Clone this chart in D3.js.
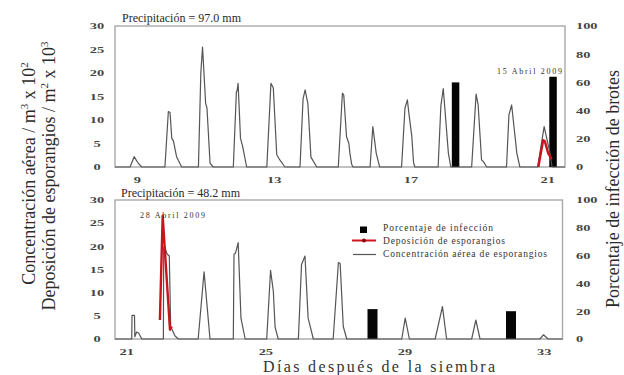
<!DOCTYPE html>
<html>
<head>
<meta charset="utf-8">
<script src="https://cdn.jsdelivr.net/npm/d3@7"></script>
<style>
  body { margin: 0; background: #fff; }
  svg { display: block; font-family: "Liberation Serif", "DejaVu Serif", serif; }
</style>
</head>
<body>
<svg id="chart" width="624" height="375"></svg>
<script>
// values: [dia despues de la siembra, valor]
var yTicks = [0, 5, 10, 15, 20, 25, 30];
var pctTicks = [0, 20, 40, 60, 80, 100];

var topTicks = [9, 13, 17, 21];
var topConc = [
  [8.36, 0], [8.80, 0], [8.92, 2.2], [9.02, 1.0], [9.14, 0],
  [9.82, 0], [9.92, 11.8], [9.97, 11.6], [10.02, 6.1], [10.07, 5.5], [10.16, 2.2], [10.31, 0],
  [10.80, 0], [10.87, 20], [10.92, 25.5], [11.01, 13.6], [11.05, 12.5], [11.14, 0.8], [11.23, 0],
  [11.82, 0], [11.91, 16], [11.93, 16.2], [11.96, 17.8], [12.03, 6.1], [12.09, 4.5], [12.21, 0],
  [12.80, 0], [12.92, 17.8], [12.99, 16.8], [13.09, 2.6], [13.18, 1.5], [13.33, 0],
  [13.77, 0], [13.86, 14.5], [13.92, 16.4], [14.00, 13.5], [14.09, 2.1], [14.26, 0],
  [14.89, 0], [15.01, 15.7], [15.05, 15.3], [15.13, 6.5], [15.20, 5], [15.23, 2.9], [15.28, 0.6], [15.32, 0],
  [15.82, 0], [15.90, 8.6], [16.00, 2.9], [16.10, 0],
  [16.74, 0], [16.84, 12.5], [16.91, 14.3], [16.96, 11.1], [17.04, 6.5], [17.09, 1], [17.13, 0],
  [17.81, 0], [17.89, 13], [17.96, 16.7], [18.11, 2.9], [18.18, 0],
  [18.79, 0], [18.92, 15.5], [18.98, 13.2], [19.08, 1.5], [19.13, 1.2], [19.23, 0],
  [19.81, 0], [19.88, 11.1], [19.96, 13.2], [20.11, 3], [20.20, 0],
  [20.72, 0], [20.91, 8.6], [21.08, 3], [21.14, 0], [21.52, 0]
];
var topDep = [[20.74, 0], [20.88, 5.7], [20.93, 5.5], [21.03, 2.9], [21.13, 1.7]];
var topBarDays = [18.32, 21.17];
var topBarPct = [60, 64];

var botTicks = [21, 25, 29, 33];
var botConc = [
  [20.68, 0], [21.16, 0], [21.17, 5.1], [21.24, 5.1], [21.25, 0.5], [21.30, 1.5], [21.36, 1.3], [21.45, 0],
  [22.07, 0], [22.08, 19.8], [22.10, 20], [22.18, 18.3], [22.24, 17.9], [22.28, 2.7], [22.40, 0.7], [22.50, 0],
  [23.07, 0], [23.24, 14.5], [23.41, 0],
  [24.08, 0], [24.10, 18.3], [24.14, 18.5], [24.22, 20.8], [24.30, 4.5], [24.42, 0],
  [25.04, 0], [25.15, 14.8], [25.23, 10.3], [25.28, 2.6], [25.37, 0],
  [25.95, 0], [26.04, 16.1], [26.14, 17.9], [26.23, 4.5], [26.38, 0],
  [26.95, 0], [27.10, 16.5], [27.15, 16.3], [27.24, 2.7], [27.34, 0],
  [28.92, 0], [29.02, 4.5], [29.14, 0],
  [29.88, 0], [30.09, 7.0], [30.21, 0],
  [30.93, 0], [31.05, 4.1], [31.17, 0],
  [32.89, 0], [32.99, 0.9], [33.13, 0], [33.54, 0]
];
var botDep = [[21.97, 4.1], [22.05, 26.6], [22.26, 2], [22.31, 2.7]];
var botBarDays = [28.08, 32.06];
var botBarPct = [21.5, 20];

var legendItems = ['Porcentaje de  infección', 'Deposición de esporangios', 'Concentración aérea de esporangios'];

var SX = 1.8; // the tick digits are drawn very wide in the original

var svg = d3.select('#chart');

drawPanel({
  domain: [8.36, 21.52], left: 115, right: 565, top: 26, bottom: 167,
  ticks: topTicks, conc: topConc, dep: topDep,
  barDays: topBarDays, barPct: topBarPct, barWidth: 7.5,
  rain: 'Precipitación =  97.0 mm', rainX: 122, rainY: 22,
  note: '15  Abril 2009', noteX: 497, noteY: 74
});

drawPanel({
  domain: [20.68, 33.54], left: 115, right: 562.5, top: 200, bottom: 339,
  ticks: botTicks, conc: botConc, dep: botDep,
  barDays: botBarDays, barPct: botBarPct, barWidth: 10,
  rain: 'Precipitación =  48.2 mm', rainX: 121, rainY: 197,
  note: '28  Abril 2009', noteX: 140, noteY: 217.5
});

drawLegend();
drawTitles();

function drawPanel(p) {
  var x = d3.scaleLinear().domain(p.domain).range([p.left, p.right]);
  var y = d3.scaleLinear().domain([0, 30]).range([p.bottom, p.top]);
  var yr = d3.scaleLinear().domain([0, 100]).range([p.bottom, p.top]);

  var g = svg.append('g');

  g.append('rect')
    .attr('x', p.left)
    .attr('y', p.top)
    .attr('width', p.right - p.left)
    .attr('height', p.bottom - p.top)
    .attr('fill', 'none')
    .attr('stroke', '#a9a9a9')
    .attr('stroke-width', 1.4);

  g.selectAll('.bar')
    .data(d3.zip(p.barDays, p.barPct))
  .enter()
    .append('rect')
    .attr('class', 'bar')
    .attr('x', function (d) { return x(d[0]) - p.barWidth / 2; })
    .attr('y', function (d) { return yr(d[1]); })
    .attr('width', p.barWidth)
    .attr('height', function (d) { return p.bottom - yr(d[1]); })
    .attr('fill', '#050505');

  var line = d3.line()
    .x(function (d) { return x(d[0]); })
    .y(function (d) { return y(d[1]); });

  g.append('path')
    .datum(p.conc)
    .attr('d', line)
    .attr('fill', 'none')
    .attr('stroke', '#555')
    .attr('stroke-width', 1.2)
    .attr('stroke-linejoin', 'round');

  g.append('path')
    .datum(p.dep)
    .attr('d', line)
    .attr('fill', 'none')
    .attr('stroke', '#c8141c')
    .attr('stroke-width', 2.4)
    .attr('stroke-linejoin', 'round');

  var ax = g.append('g')
    .attr('transform', 'translate(' + p.left + ',0)')
    .call(d3.axisLeft(y).tickValues(yTicks).tickSize(0));
  styleTicks(ax);
  ax.selectAll('text')
    .attr('x', -18 / SX)
    .attr('dy', '0.35em')
    .attr('text-anchor', 'middle');

  var axr = g.append('g')
    .attr('transform', 'translate(' + p.right + ',0)')
    .call(d3.axisRight(yr).tickValues(pctTicks).tickSize(0));
  styleTicks(axr);
  axr.selectAll('text')
    .attr('x', (576 - p.right) / SX)
    .attr('dy', '0.35em')
    .attr('text-anchor', 'start');

  var axb = g.append('g')
    .attr('transform', 'translate(0,' + p.bottom + ')')
    .call(d3.axisBottom(x).tickValues(p.ticks).tickFormat(d3.format('d')).tickSize(0));
  styleTicks(axb);
  axb.selectAll('text')
    .attr('y', 16.5)
    .attr('dy', 0)
    .attr('text-anchor', 'middle');

  g.append('text')
    .attr('x', p.rainX)
    .attr('y', p.rainY)
    .attr('font-size', 13)
    .attr('textLength', 119)
    .attr('lengthAdjust', 'spacingAndGlyphs')
    .attr('fill', '#2a2a2a')
    .text(p.rain);

  g.append('text')
    .attr('x', p.noteX)
    .attr('y', p.noteY)
    .attr('font-size', 8)
    .attr('textLength', 65)
    .attr('lengthAdjust', 'spacing')
    .attr('fill', '#333')
    .text(p.note);
}

function styleTicks(ax) {
  ax.select('.domain').remove();
  ax.attr('font-family', null).attr('font-size', null);
  ax.selectAll('text')
    .attr('font-size', 8)
    .attr('font-weight', 'bold')
    .attr('fill', '#444')
    .attr('transform', 'scale(' + SX + ',1)');
}

function drawLegend() {
  var lg = svg.append('g');
  var rows = [231, 243.5, 257];

  lg.append('rect')
    .attr('x', 360).attr('y', 226.5)
    .attr('width', 7).attr('height', 6.5)
    .attr('fill', '#000');

  lg.append('line')
    .attr('x1', 352).attr('x2', 376)
    .attr('y1', 240.5).attr('y2', 240.5)
    .attr('stroke', '#d0141c').attr('stroke-width', 2);
  lg.append('circle')
    .attr('cx', 364).attr('cy', 240.5).attr('r', 2)
    .attr('fill', '#8a0a10');

  lg.append('line')
    .attr('x1', 353).attr('x2', 376)
    .attr('y1', 254.5).attr('y2', 254.5)
    .attr('stroke', '#555').attr('stroke-width', 1.2);

  var lengths = [110, 122, 164];
  lg.selectAll('.legend-text')
    .data(legendItems)
  .enter()
    .append('text')
    .attr('class', 'legend-text')
    .attr('x', 383)
    .attr('y', function (d, i) { return rows[i]; })
    .attr('font-size', 9.5)
    .attr('textLength', function (d, i) { return lengths[i]; })
    .attr('lengthAdjust', 'spacing')
    .attr('fill', '#333')
    .text(function (d) { return d; });
}

function drawTitles() {
  svg.append('text')
    .attr('x', 263)
    .attr('y', 372)
    .attr('font-size', 16)
    .attr('textLength', 232)
    .attr('lengthAdjust', 'spacing')
    .attr('fill', '#333')
    .text('Días después de la siembra');

  var l1 = svg.append('text')
    .attr('transform', 'translate(35,173.5) rotate(-90)')
    .attr('text-anchor', 'middle')
    .attr('font-size', 18)
    .attr('fill', '#2a2a2a');
  l1.append('tspan').text('Concentración aérea  /  m');
  l1.append('tspan').attr('dy', -7).attr('font-size', 11).text('3');
  l1.append('tspan').attr('dy', 7).text(' x 10');
  l1.append('tspan').attr('dy', -7).attr('font-size', 11).text('2');

  var l2 = svg.append('text')
    .attr('transform', 'translate(55,176) rotate(-90)')
    .attr('text-anchor', 'middle')
    .attr('font-size', 18)
    .attr('fill', '#2a2a2a');
  l2.append('tspan').text('Deposición de esporangios / m');
  l2.append('tspan').attr('dy', -7).attr('font-size', 11).text('2');
  l2.append('tspan').attr('dy', 7).text(' x 10');
  l2.append('tspan').attr('dy', -7).attr('font-size', 11).text('3');

  svg.append('text')
    .attr('transform', 'translate(619,189) rotate(-90)')
    .attr('text-anchor', 'middle')
    .attr('font-size', 18)
    .attr('textLength', 238)
    .attr('lengthAdjust', 'spacingAndGlyphs')
    .attr('fill', '#2a2a2a')
    .text('Porcentaje de infección de brotes');
}
</script>
</body>
</html>
